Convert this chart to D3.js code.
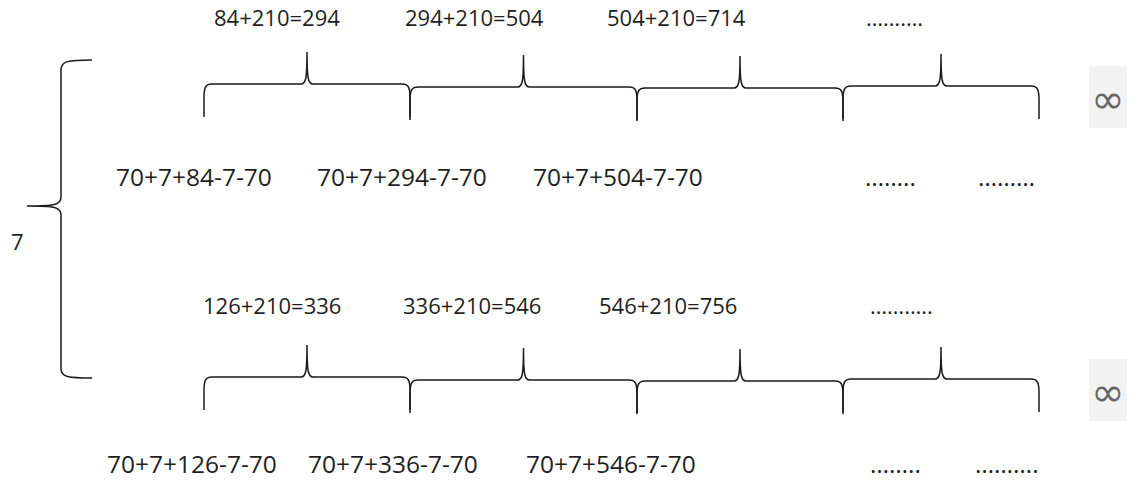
<!DOCTYPE html>
<html>
<head>
<meta charset="utf-8">
<script src="https://cdn.jsdelivr.net/npm/d3@7"></script>
<style>
  body { margin: 0; background: #fff; }
  text { font-family: "Open Sans", "DejaVu Sans", sans-serif; fill: #1f1f1f; }
</style>
</head>
<body>
<div id="chart"></div>
<script>
// values
const step = 210;
const topStarts = [84, 294, 504];
const bottomStarts = [126, 336, 546];
const addOn = 70, small = 7;
const topSumDots = "……….";
const bottomSumDots = "………..";
const topExprDots = ["……..", "………"];
const bottomExprDots = ["……..", "………."];
const sideLabel = "7";

// layout (pixels)
const width = 1138, height = 480;
const segEdges = [204, 410, 637, 843, 1039];
const braceTilt = [-2, 1, 2, 0];       // small offsets of each brace's bar
const rows = [
  { bar: 86, sumY: 26, exprY: 186, sumX: [214, 405, 607, 866], exprX: [116, 317, 533, 865, 978] },
  { bar: 379, sumY: 314, exprY: 473, sumX: [203, 403, 599, 870], exprX: [107, 308, 526, 870, 975] }
];

const x = d3.scaleLinear()
  .domain(d3.range(segEdges.length))
  .range(segEdges);

const svg = d3.select("#chart")
  .append("svg")
  .attr("width", width)
  .attr("height", height);

// one horizontal curly brace from x0 to x1, bar at y h
function bracePath(x0, x1, h) {
  const p = (x0 + x1) / 2, t = h - 32, b = h + 33;
  const p2 = d3.path();
  p2.moveTo(x0, b);
  p2.lineTo(x0, h + 13);
  p2.bezierCurveTo(x0, h + 3, x0 + 2, h, x0 + 8, h);
  p2.lineTo(p - 6, h);
  p2.bezierCurveTo(p - 1, h, p, h - 6, p, t);
  p2.bezierCurveTo(p, h - 6, p + 1, h, p + 6, h);
  p2.lineTo(x1 - 8, h);
  p2.bezierCurveTo(x1 - 2, h, x1, h + 3, x1, h + 13);
  p2.lineTo(x1, b);
  return p2.toString();
}

const rowData = [
  { starts: topStarts, sumDots: topSumDots, exprDots: topExprDots },
  { starts: bottomStarts, sumDots: bottomSumDots, exprDots: bottomExprDots }
];

rowData.forEach((rd, r) => {
  const L = rows[r];
  const g = svg.append("g");

  const sums = rd.starts.map(s => s + "+" + step + "=" + (s + step)).concat([rd.sumDots]);
  g.selectAll("text.sum")
    .data(sums)
    .join("text")
    .attr("class", "sum")
    .attr("x", (d, i) => L.sumX[i])
    .attr("y", L.sumY)
    .style("font-size", "22px")
    .text(d => d);

  g.selectAll("path.brace")
    .data(d3.range(segEdges.length - 1))
    .join("path")
    .attr("class", "brace")
    .attr("d", i => bracePath(x(i), x(i + 1), L.bar + braceTilt[i]))
    .attr("fill", "none")
    .attr("stroke", "#1a1a1a")
    .attr("stroke-width", 1.5);

  const exprs = rd.starts.map(s => addOn + "+" + small + "+" + s + "-" + small + "-" + addOn).concat(rd.exprDots);
  g.selectAll("text.expr")
    .data(exprs)
    .join("text")
    .attr("class", "expr")
    .attr("x", (d, i) => L.exprX[i])
    .attr("y", L.exprY)
    .style("font-size", "24.5px")
    .text(d => d);

  // infinity box
  g.append("rect")
    .attr("x", 1089)
    .attr("y", L.bar - 20)
    .attr("width", 38)
    .attr("height", 62)
    .attr("fill", "#f2f2f2");
  g.append("text")
    .attr("x", 1108)
    .attr("y", L.bar + 13)
    .attr("text-anchor", "middle")
    .attr("dominant-baseline", "central")
    .style("font-family", "'DejaVu Sans', sans-serif")
    .style("font-size", "40px")
    .style("fill", "#666")
    .text("∞");
});

// big left brace grouping both rows
const bigBrace = d3.path();
bigBrace.moveTo(92, 60);
bigBrace.bezierCurveTo(68, 60, 61, 61, 61, 70);
bigBrace.lineTo(61, 197);
bigBrace.bezierCurveTo(61, 205, 55, 206, 27, 206);
bigBrace.bezierCurveTo(55, 206, 61, 207, 61, 215);
bigBrace.lineTo(61, 369);
bigBrace.bezierCurveTo(61, 377, 68, 378, 92, 378);
svg.append("path")
  .attr("d", bigBrace.toString())
  .attr("fill", "none")
  .attr("stroke", "#1a1a1a")
  .attr("stroke-width", 1.5);

svg.append("text")
  .attr("x", 11)
  .attr("y", 250)
  .style("font-size", "22px")
  .text(sideLabel);
</script>
</body>
</html>
